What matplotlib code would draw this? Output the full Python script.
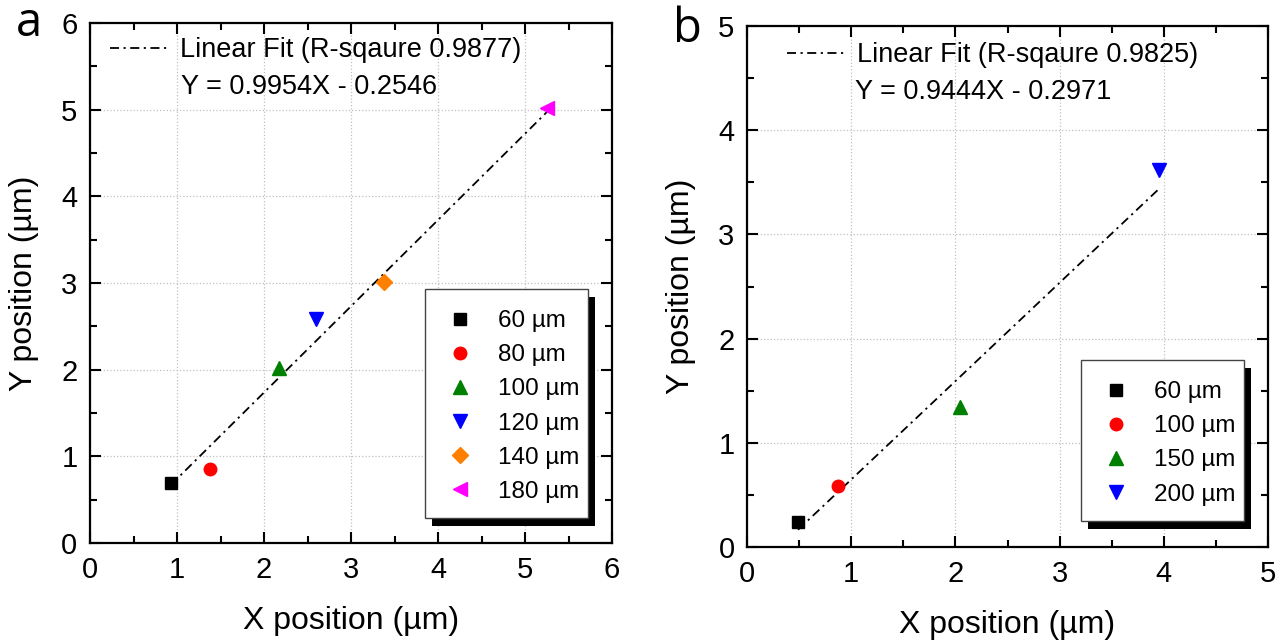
import matplotlib
matplotlib.use("Agg")
import matplotlib.pyplot as plt
from matplotlib.patches import Rectangle
from matplotlib.ticker import MultipleLocator

plt.rcParams['font.family'] = ['Liberation Sans', 'DejaVu Sans']

# panel a data
a_labels = ['60 µm', '80 µm', '100 µm', '120 µm', '140 µm', '180 µm']
a_x = [0.93, 1.38, 2.17, 2.60, 3.38, 5.25]
a_y = [0.69, 0.85, 2.02, 2.59, 3.01, 5.02]
a_fit = (0.9954, -0.2546)
a_fit_label = 'Linear Fit (R-sqaure 0.9877)'
a_fit_eq = 'Y = 0.9954X - 0.2546'

# panel b data
b_labels = ['60 µm', '100 µm', '150 µm', '200 µm']
b_x = [0.49, 0.87, 2.04, 3.95]
b_y = [0.24, 0.59, 1.34, 3.62]
b_fit = (0.9444, -0.2971)
b_fit_label = 'Linear Fit (R-sqaure 0.9825)'
b_fit_eq = 'Y = 0.9444X - 0.2971'

markers = ['s', 'o', '^', 'v', 'D', '<']
colors = ['black', 'red', 'green', 'blue', '#FF8000', 'magenta']
msizes = [8, 9, 10, 10, 8, 10]

W, H = 1286, 641
fig = plt.figure(figsize=(W / 100, H / 100), dpi=100)

def fx(px):
    return px / W

def fy(py):
    return 1 - py / H


def panel(rect, xs, ys, labels, fit, fit_label, fit_eq, xmax, ymax,
          leg_xy, fit_xy, eq_xy, tag, tag_xy):
    ax = fig.add_axes(rect)
    for i in range(len(xs)):
        ax.plot(xs[i], ys[i], linestyle='none', marker=markers[i],
                color=colors[i], ms=msizes[i], label=labels[i], zorder=3)
    xf = [min(xs), max(xs)]
    yf = [fit[0] * v + fit[1] for v in xf]
    fit_line, = ax.plot(xf, yf, color='black', lw=1.3,
                        linestyle=(0, (5, 2.5, 1.2, 2.5)), zorder=2)

    ax.set_xlim(0, xmax)
    ax.set_ylim(0, ymax)
    ax.xaxis.set_major_locator(MultipleLocator(1))
    ax.yaxis.set_major_locator(MultipleLocator(1))
    ax.xaxis.set_minor_locator(MultipleLocator(0.5))
    ax.yaxis.set_minor_locator(MultipleLocator(0.5))
    ax.tick_params(which='both', direction='in', top=True, right=True,
                   width=1.5, labelsize=21, pad=9)
    ax.tick_params(which='major', length=8)
    ax.tick_params(which='minor', length=5)
    for s in ax.spines.values():
        s.set_linewidth(1.6)
    ax.grid(True, which='major', linestyle=':', color='#c0c0c0', lw=0.9)
    ax.set_axisbelow(True)
    ax.set_xlabel('X position (µm)', fontsize=23, labelpad=16)
    ax.set_ylabel('Y position (µm)', fontsize=23, labelpad=16)

    # marker legend; frame and shadow are drawn by hand below
    leg = ax.legend(loc='upper left', bbox_to_anchor=(fx(leg_xy[0]), fy(leg_xy[1])),
                    bbox_transform=fig.transFigure, borderaxespad=0, borderpad=0,
                    fontsize=17.5, frameon=False, handlelength=1.5,
                    handletextpad=0.8, labelspacing=0.5, numpoints=1)
    leg.set_zorder(8)

    # fit legend (no frame)
    ax.legend([fit_line], [fit_label], loc='upper left',
              bbox_to_anchor=(fx(fit_xy[0]), fy(fit_xy[1])),
              bbox_transform=fig.transFigure, borderaxespad=0, borderpad=0,
              fontsize=19.5, frameon=False, handlelength=2.1, handletextpad=0.5)
    ax.add_artist(leg)
    ax.text(fx(eq_xy[0]), fy(eq_xy[1]), fit_eq, transform=fig.transFigure,
            fontsize=19.5, ha='left', va='center')
    fig.text(fx(tag_xy[0]), fy(tag_xy[1]), tag, fontsize=34,
             family=['Open Sans', 'DejaVu Sans'], ha='left', va='baseline')
    return ax, leg


axa, lega = panel([fx(90), fy(543), fx(612 - 90), (543 - 23) / H],
                  a_x, a_y, a_labels, a_fit, a_fit_label, a_fit_eq, 6, 6,
                  (442, 310), (110, 37), (181, 87), 'a', (16, 36))
axb, legb = panel([fx(747), fy(547), fx(1268 - 747), (547 - 26) / H],
                  b_x, b_y, b_labels, b_fit, b_fit_label, b_fit_eq, 5, 5,
                  (1098, 381), (787, 42), (855, 92), 'b', (673, 42))

# white box + solid black drop shadow behind each marker legend
pad_l, pad_r, pad_t, pad_b = 17, 9, 21, 15
fig.canvas.draw()
inv = fig.transFigure.inverted()
for ax, leg in ((axa, lega), (axb, legb)):
    bb = leg.get_window_extent()
    bx0, by0 = bb.x0 - pad_l, bb.y0 - pad_b
    bx1, by1 = bb.x1 + pad_r, bb.y1 + pad_t
    for dx, dy, fc, ec, z in ((7, -8, 'black', 'none', 6), (0, 0, 'white', '#444444', 7)):
        (x0, y0), (x1, y1) = inv.transform([(bx0 + dx, by0 + dy), (bx1 + dx, by1 + dy)])
        ax.add_artist(Rectangle((x0, y0), x1 - x0, y1 - y0, transform=fig.transFigure,
                                facecolor=fc, edgecolor=ec, lw=1.0, zorder=z,
                                clip_on=False))

fig.savefig('out.png', dpi=100)
